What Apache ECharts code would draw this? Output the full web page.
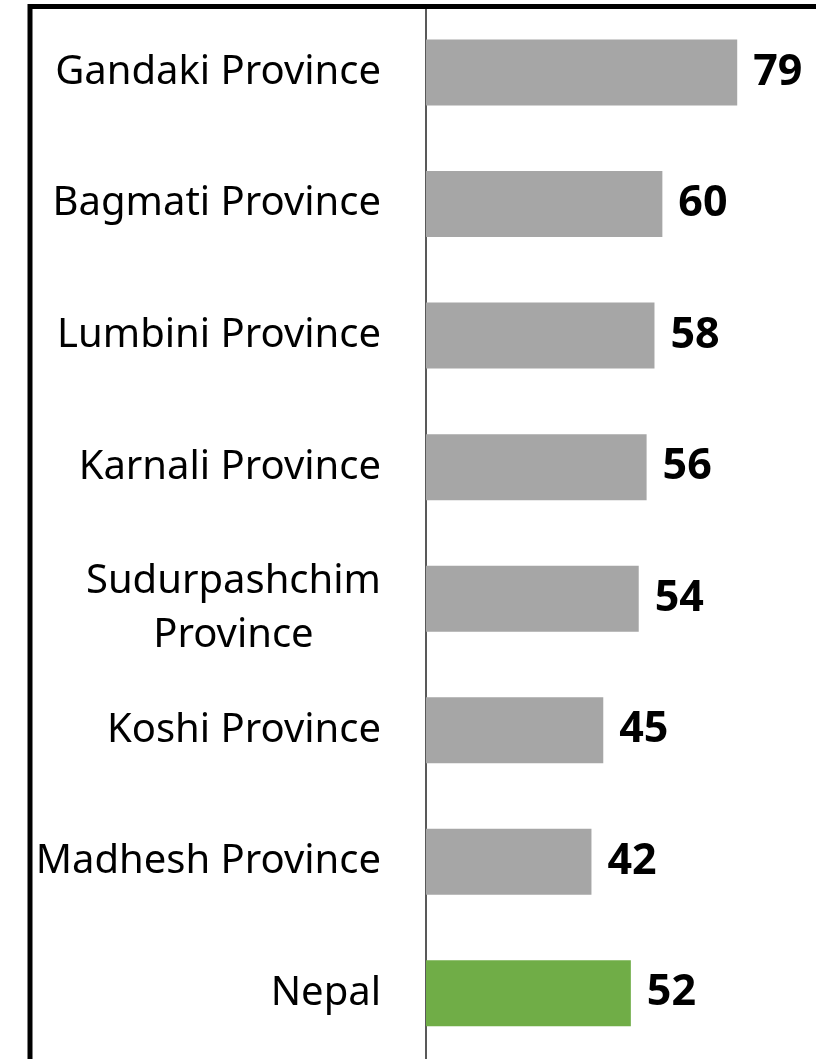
<!DOCTYPE html>
<html>
<head>
<meta charset="utf-8">
<script src="https://cdn.jsdelivr.net/npm/echarts@6/dist/echarts.min.js"></script>
<style>
html,body{margin:0;padding:0;background:#fff;}
#chart{width:816px;height:1059px;}
</style>
</head>
<body>
<div id="chart"></div>
<script>
const categories = ['Gandaki Province','Bagmati Province','Lumbini Province','Karnali Province','Sudurpashchim\nProvince','Koshi Province','Madhesh Province','Nepal'];
const values = [79, 60, 58, 56, 54, 45, 42, 52];
const highlight = ['Nepal'];

const chart = echarts.init(document.getElementById('chart'));
chart.setOption({
  animation: false,
  backgroundColor: '#fff',
  graphic: [{
    type: 'rect', z: 100,
    shape: {x: 30, y: 6.5, width: 1000, height: 1200},
    style: {fill: 'none', stroke: '#000', lineWidth: 5}
  }],
  grid: {left: 426, top: 6.8, width: 390, height: 1058.6, containLabel: false},
  xAxis: {
    type: 'value', min: 0, max: 99, show: false
  },
  yAxis: {
    type: 'category', inverse: true, data: categories,
    axisLine: {show: true, lineStyle: {color: '#222', width: 1.5}},
    axisTick: {show: false},
    axisLabel: {
      margin: 45, color: '#000', fontFamily: 'Noto Sans', fontSize: 40,
      lineHeight: 54,
      formatter: function (v) {
        var parts = v.split('\n');
        var out = parts.map(function (s) { return '{c|' + s + '}'; }).join('\n');
        return parts.length > 1 ? '{s| }\n' + out : out;
      },
      rich: {
        c: {align: 'center', color: '#000', fontFamily: 'Noto Sans', fontSize: 40, lineHeight: 54},
        s: {align: 'center', fontSize: 10, lineHeight: 20}
      }
    }
  },
  series: [{
    type: 'bar', barWidth: 66,
    data: values.map(function (v, i) {
      return {value: v, itemStyle: {color: highlight.indexOf(categories[i]) >= 0 ? '#70AD47' : '#A6A6A6'}};
    }),
    label: {
      show: true, position: 'right', distance: 16, color: '#000',
      fontFamily: 'Noto Sans', fontWeight: 'bold', fontSize: 43
    }
  }]
});
</script>
</body>
</html>
